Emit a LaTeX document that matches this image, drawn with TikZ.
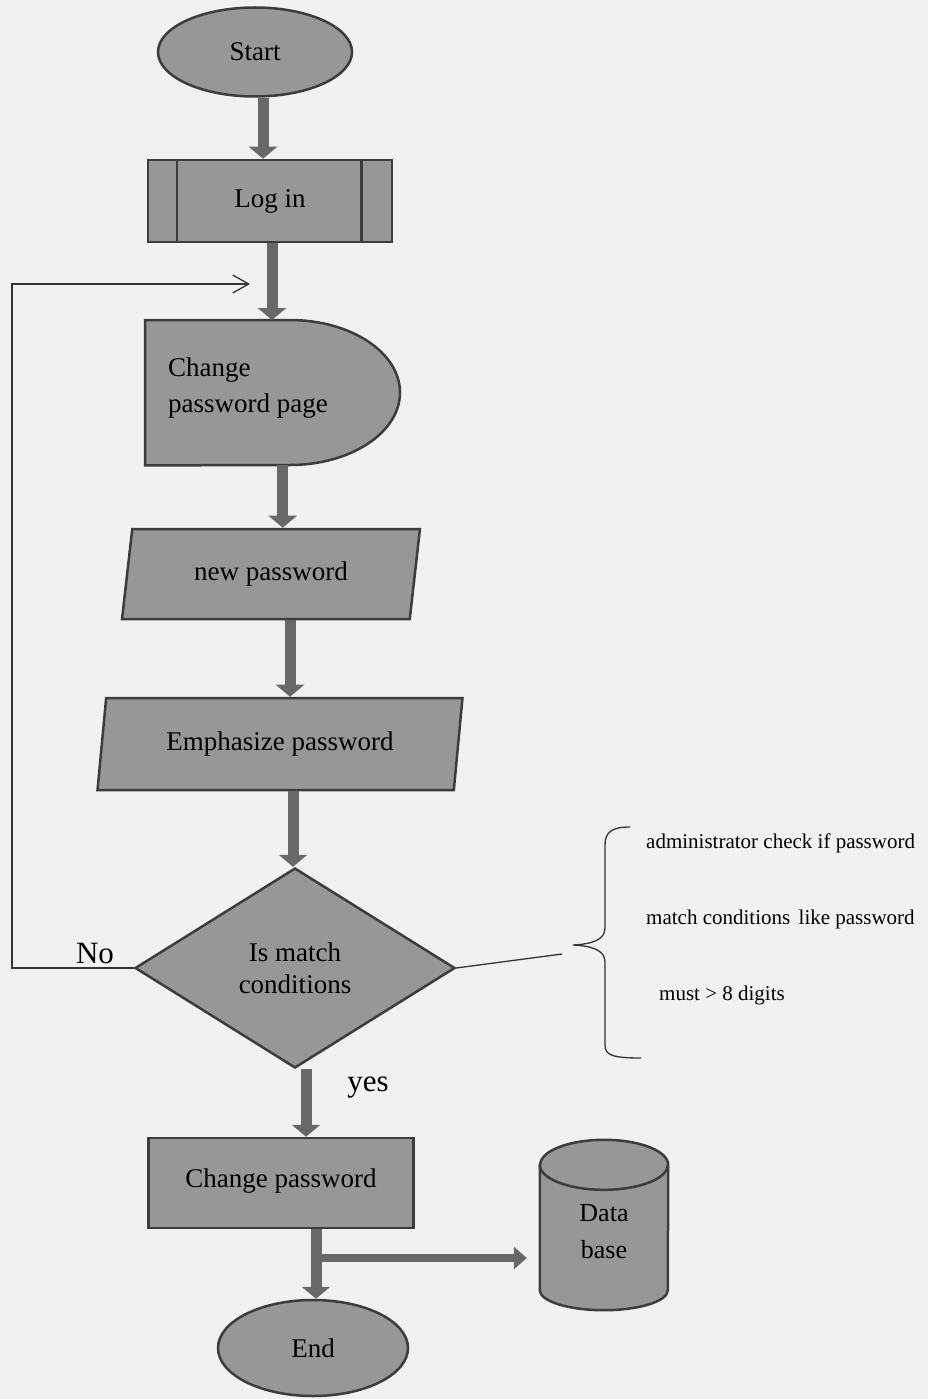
\documentclass[tikz,border=0pt]{standalone}
\usepackage{fontspec}
\setmainfont{Liberation Serif}
\usetikzlibrary{shapes.geometric,arrows.meta}

\definecolor{paper}{HTML}{F1F1F1}
\definecolor{boxfill}{HTML}{979797}
\definecolor{boxline}{HTML}{3C3C3C}
\definecolor{flowcol}{HTML}{686868}
\definecolor{inkline}{HTML}{333333}

\tikzset{
  box/.style={draw=boxline, line width=2.5pt, fill=boxfill, text=black,
    font=\fontsize{27}{32}\selectfont, inner sep=0pt, align=center},
  flow/.style={draw=flowcol, line width=11pt,
    -{Triangle[length=12pt,width=28pt]}},
  flowthin/.style={draw=flowcol, line width=8pt,
    -{Triangle[length=13pt,width=22pt]}},
  inkrule/.style={draw=inkline, line width=1.3pt},
  note/.style={font=\fontsize{21}{24}\selectfont, inner sep=0pt},
  answer/.style={font=\fontsize{31}{34}\selectfont, inner sep=0pt},
}

\begin{document}
\begin{tikzpicture}[x=1pt,y=1pt]
  % paper
  \fill[paper] (0,0) rectangle (928,-1399);
  \useasboundingbox (0,0) rectangle (928,-1399);

  % terminals and process boxes
  \node[box, ellipse, minimum width=194pt, minimum height=89pt] (start) at (255,-52) {Start};

  \node[box, rectangle, minimum width=244pt, minimum height=82pt] (login) at (270,-201) {Log in};
  \draw[draw=boxline, line width=2.5pt]
    ([xshift=30pt]login.north west) -- ([xshift=30pt]login.south west)
    ([xshift=-32pt]login.north east) -- ([xshift=-32pt]login.south east);

  % display-shaped page
  \node[minimum width=255pt, minimum height=145pt, inner sep=0pt, anchor=north west] (page) at (145,-320) {};
  \draw[box] (page.north west) -- ++(145,0)
    arc[start angle=90, end angle=-90, x radius=110pt, y radius=72.5pt]
    -- (page.south west) -- cycle;
  \node[font=\fontsize{27}{36}\selectfont, align=left, anchor=west, inner sep=0pt] (pagetext) at (168,-388) {Change\\password page};

  % data entry parallelograms
  \node[box, trapezium, trapezium left angle=77, trapezium right angle=103,
        trapezium stretches=true, minimum width=298pt, minimum height=90pt] (newpw) at (271,-574) {new password};
  \node[box, trapezium, trapezium left angle=77, trapezium right angle=103,
        trapezium stretches=true, minimum width=366pt, minimum height=92pt] (emph) at (280,-744) {Emphasize password};

  % decision
  \node[box, diamond, minimum width=320pt, minimum height=200pt] (dia) at (295,-968) {Is match\\conditions};

  % update and end
  \node[box, rectangle, minimum width=265pt, minimum height=90pt] (chg) at (281,-1183) {\raisebox{10pt}{Change password}};
  \node[box, ellipse, minimum width=190pt, minimum height=96pt] (end) at (313,-1348) {End};

  % database cylinder
  \node[minimum width=128pt, minimum height=170pt, inner sep=0pt] (db) at (604,-1225) {};
  \draw[box] ([yshift=-25pt]db.north west) -- ([yshift=20pt]db.south west)
    arc[start angle=180, end angle=360, x radius=64pt, y radius=20pt]
    -- ([yshift=-25pt]db.north east)
    arc[start angle=0, end angle=180, x radius=64pt, y radius=25pt] -- cycle;
  \draw[draw=boxline, line width=2.5pt] ([yshift=-25pt]db.north west)
    arc[start angle=180, end angle=360, x radius=64pt, y radius=25pt];
  \node[font=\fontsize{26}{37}\selectfont, align=center, inner sep=0pt] (dbtext) at (604,-1232) {Data\\base};

  % main flow
  \draw[flow] ([xshift=8pt]start.south) -- ([xshift=8pt]start.south |- login.north);
  \draw[flow] ([xshift=2pt]login.south) -- ([xshift=2pt]login.south |- page.north);
  \draw[flow] ([xshift=10pt]page.south) -- ([xshift=10pt]page.south |- newpw.north);
  \draw[flow] ([xshift=19pt]newpw.south) -- ([xshift=19pt]newpw.south |- emph.north);
  \draw[flow] ([xshift=13pt]emph.south) -- ([xshift=13pt]emph.south |- dia.north);
  \draw[flow] ([xshift=11pt]dia.south) -- ([xshift=11pt]dia.south |- chg.north);
  \draw[flow] ([xshift=35pt]chg.south) -- ([xshift=35pt]chg.south |- end.north);

  % branch to the database
  \coordinate (branch) at (316,-1258);
  \draw[flowthin, shorten >=13pt] (branch) -- (branch -| db.west);

  % "No" loop back to the change password page
  \coordinate (loopx) at (12,0);
  \coordinate (backtip) at (250,-284);
  \draw[inkrule, -{Straight Barb[length=16pt,width=18pt]}]
    (dia.west) -- (dia.west -| loopx) |- (backtip);
  \node[answer] (nolabel) at (95,-953) {No};
  \node[answer] (yeslabel) at (368,-1088) {yes};

  % explanatory note with brace
  \coordinate (bracetip) at (573,-945);
  \coordinate (bracetop) at (630,-827);
  \coordinate (bracebot) at (641,-1058);
  \coordinate (notejoin) at (562,-954);
  \draw[inkrule] (dia.east) -- (notejoin);
  \draw[inkrule] (bracetop) .. controls (612,-827) and (605,-832) .. (605,-845)
    -- (605,-928) .. controls (605,-940) and (592,-944) .. (bracetip)
    .. controls (592,-946) and (605,-950) .. (605,-962)
    -- (605,-1045) .. controls (605,-1055) and (612,-1058) .. (bracebot);
  \node[note, anchor=base west] (note1) at (646,-848) {administrator check if password};
  \node[note, anchor=base west] (note2) at (646,-924) {match conditions\hspace{0.15em} like password};
  \node[note, anchor=base west] (note3) at (659,-1000) {must > 8 digits};
\end{tikzpicture}
\end{document}
